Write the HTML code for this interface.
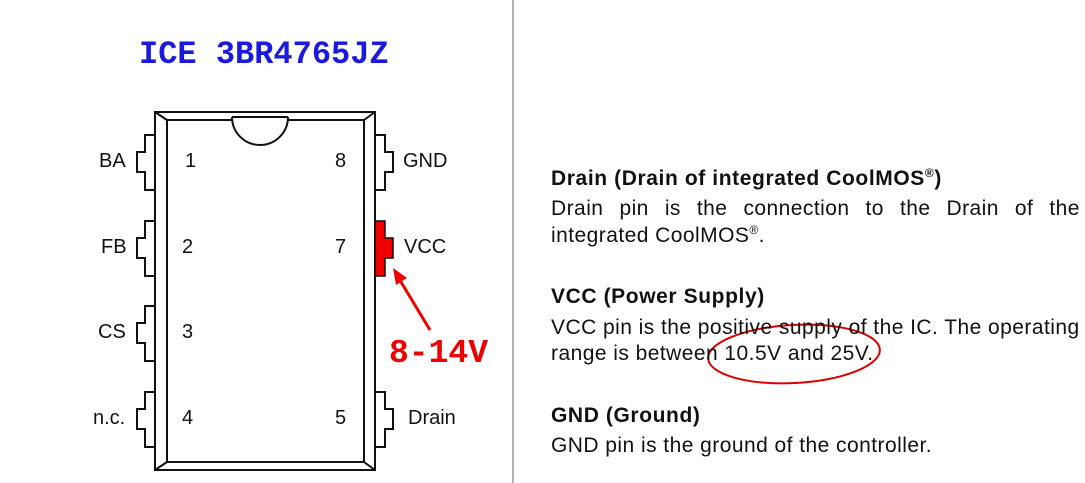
<!DOCTYPE html>
<html><head><style>
body{margin:0;width:1085px;height:483px;background:#fff;overflow:hidden;position:relative;font-family:"Liberation Sans",Arial,sans-serif;}
.t{position:absolute;white-space:nowrap;color:#111;}
.h{font-weight:bold;font-size:21px;letter-spacing:0.6px;}
.b{font-size:20px;}
.r{font-size:21px;letter-spacing:0.45px;}
</style></head><body>
<svg width="1085" height="483" style="position:absolute;left:0;top:0">
<line x1="513" y1="0" x2="513" y2="483" stroke="#999" stroke-width="1.5"/>
<g fill="none" stroke="#111" stroke-width="2">
<rect x="155" y="112" width="220" height="358"/>
<rect x="167" y="120" width="197" height="342"/>
<line x1="155" y1="112" x2="167" y2="120"/><line x1="375" y1="112" x2="364" y2="120"/>
<line x1="155" y1="470" x2="167" y2="462"/><line x1="375" y1="470" x2="364" y2="462"/>
<path d="M232 117 A28 28 0 0 0 288 117" fill="#fff"/>
<line x1="232" y1="117" x2="288" y2="117"/>
<g id="lp">
<path d="M155 135 H145 V152 H137 V172 H145 V190 H155"/>
</g>
<use href="#lp" y="86"/><use href="#lp" y="171"/><use href="#lp" y="257"/>
<path d="M375 135 H385 V152 H393 V172 H385 V190 H375"/>
<path d="M375 392 H385 V409 H393 V429 H385 V447 H375"/>
</g>
<path d="M375 221 H385 V238 H393 V258 H385 V276 H375 Z" fill="#e00" stroke="#111" stroke-width="1.5"/>
<line x1="430" y1="330" x2="398" y2="277" stroke="#e00" stroke-width="3"/>
<polygon points="393,268 396,285 407,278" fill="#e00"/>
<ellipse cx="794" cy="354" rx="86" ry="29" fill="none" stroke="#d00" stroke-width="2" transform="rotate(-3 794 354)"/>
</svg>
<div class="t" style="left:139px;top:36px;font:bold 32px 'Liberation Mono',monospace;color:#1a1adf;">ICE 3BR4765JZ</div>
<div class="t b" style="left:99px;top:150px">BA</div>
<div class="t b" style="left:101px;top:236px">FB</div>
<div class="t b" style="left:98px;top:321px">CS</div>
<div class="t b" style="left:93px;top:407px">n.c.</div>
<div class="t b" style="left:185px;top:150px">1</div>
<div class="t b" style="left:182px;top:236px">2</div>
<div class="t b" style="left:182px;top:321px">3</div>
<div class="t b" style="left:182px;top:407px">4</div>
<div class="t b" style="left:335px;top:150px">8</div>
<div class="t b" style="left:335px;top:236px">7</div>
<div class="t b" style="left:335px;top:407px">5</div>
<div class="t b" style="left:403px;top:150px">GND</div>
<div class="t b" style="left:404px;top:236px">VCC</div>
<div class="t b" style="left:408px;top:407px">Drain</div>
<div class="t" style="left:389px;top:335px;font:bold 33px 'Liberation Mono',monospace;color:#e00;">8-14V</div>
<div class="t h" style="left:551px;top:166px">Drain (Drain of integrated CoolMOS<sup style="font-size:12px">®</sup>)</div>
<div class="t r" style="left:551px;top:197px;width:529px;display:flex;justify-content:space-between"><span>Drain</span><span>pin</span><span>is</span><span>the</span><span>connection</span><span>to</span><span>the</span><span>Drain</span><span>of</span><span>the</span></div>
<div class="t r" style="left:551px;top:223px">integrated CoolMOS<sup style="font-size:12px">®</sup>.</div>
<div class="t h" style="left:551px;top:285px">VCC (Power Supply)</div>
<div class="t r" style="left:551px;top:316px">VCC pin is the positive supply of the IC. The operating</div>
<div class="t r" style="left:551px;top:342px">range is between 10.5V and 25V.</div>
<div class="t h" style="left:551px;top:404px">GND (Ground)</div>
<div class="t r" style="left:551px;top:434px">GND pin is the ground of the controller.</div>
</body></html>
